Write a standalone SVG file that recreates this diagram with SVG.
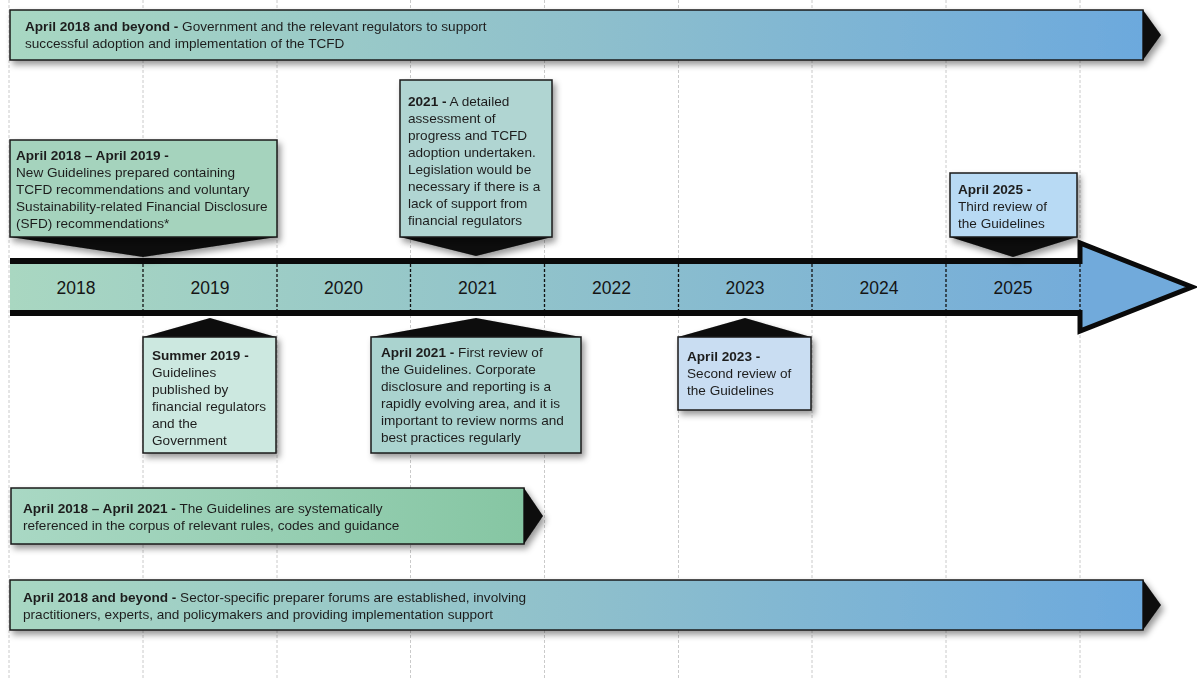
<svg xmlns="http://www.w3.org/2000/svg" width="1197" height="679" viewBox="0 0 1197 679">
<defs>
<style>
.t{font-family:"Liberation Sans",Arial,sans-serif;font-size:13.6px;fill:#1e1e1e}
.b{font-weight:bold}
.yr{font-family:"Liberation Sans",Arial,sans-serif;font-size:17.5px;fill:#151515;text-anchor:middle}
.grid{stroke:#bdbdbd;stroke-width:0.8;stroke-dasharray:3 2}
.div{stroke:#111;stroke-width:1.3;stroke-dasharray:3 2}
.box{stroke:#1a1a1a;stroke-width:1.5}
.ptr{fill:#0a0a0a}
.tip{fill:#0a0a0a}
</style>
<linearGradient id="gLong" x1="0" y1="0" x2="1" y2="0">
<stop offset="0" stop-color="#a8d7c2"/>
<stop offset="0.5" stop-color="#8fc0cc"/>
<stop offset="1" stop-color="#6ca9dd"/>
</linearGradient>
<linearGradient id="gBand" x1="0" y1="0" x2="1" y2="0">
<stop offset="0" stop-color="#a9d7c1"/>
<stop offset="0.5" stop-color="#90c2cb"/>
<stop offset="1" stop-color="#74acda"/>
</linearGradient>
<linearGradient id="gGreen" x1="0" y1="0" x2="1" y2="0">
<stop offset="0" stop-color="#a9d8c4"/>
<stop offset="1" stop-color="#86c6a3"/>
</linearGradient>
<filter id="sh" x="-10%" y="-20%" width="125%" height="150%">
<feDropShadow dx="3" dy="4" stdDeviation="3" flood-color="#000" flood-opacity="0.4"/>
</filter>
</defs>
<rect width="1197" height="679" fill="#fff"/>
<g id="gridlines">
<line class="grid" x1="9" y1="0" x2="9" y2="679"/>
<line class="grid" x1="143" y1="0" x2="143" y2="679"/>
<line class="grid" x1="277" y1="0" x2="277" y2="679"/>
<line class="grid" x1="410.5" y1="0" x2="410.5" y2="679"/>
<line class="grid" x1="544.5" y1="0" x2="544.5" y2="679"/>
<line class="grid" x1="678.5" y1="0" x2="678.5" y2="679"/>
<line class="grid" x1="812" y1="0" x2="812" y2="679"/>
<line class="grid" x1="946" y1="0" x2="946" y2="679"/>
<line class="grid" x1="1080" y1="0" x2="1080" y2="679"/>
</g>
<g id="bar-top" filter="url(#sh)">
<rect class="box" x="10" y="10" width="1133" height="50" fill="url(#gLong)"/>
<polygon class="tip" points="1143,10 1161,35 1143,60"/>
<text class="t" x="25" y="31"><tspan class="b">April 2018 and beyond -</tspan> Government and the relevant regulators to support</text>
<text class="t" x="25" y="48">successful adoption and implementation of the TCFD</text>
</g>
<g id="timeline">
<rect x="10" y="263" width="1072" height="48" fill="url(#gBand)"/>
<line x1="10" y1="261" x2="1082" y2="261" stroke="#0a0a0a" stroke-width="6"/>
<line x1="10" y1="313" x2="1082" y2="313" stroke="#0a0a0a" stroke-width="6"/>
<path d="M1080,264 L1080,243 L1192,287 L1080,331 L1080,310" fill="#71aadb" stroke="#0a0a0a" stroke-width="5" stroke-linejoin="miter"/>
<line class="div" x1="143" y1="264" x2="143" y2="310"/>
<line class="div" x1="277" y1="264" x2="277" y2="310"/>
<line class="div" x1="410.5" y1="264" x2="410.5" y2="310"/>
<line class="div" x1="544.5" y1="264" x2="544.5" y2="310"/>
<line class="div" x1="678.5" y1="264" x2="678.5" y2="310"/>
<line class="div" x1="812" y1="264" x2="812" y2="310"/>
<line class="div" x1="946" y1="264" x2="946" y2="310"/>
<line class="div" x1="1080" y1="264" x2="1080" y2="310"/>
<text class="yr" x="76" y="293.5">2018</text>
<text class="yr" x="210" y="293.5">2019</text>
<text class="yr" x="343.5" y="293.5">2020</text>
<text class="yr" x="477.5" y="293.5">2021</text>
<text class="yr" x="611.5" y="293.5">2022</text>
<text class="yr" x="745" y="293.5">2023</text>
<text class="yr" x="879" y="293.5">2024</text>
<text class="yr" x="1013" y="293.5">2025</text>
</g>
<g id="connectors" filter="url(#sh)">
<polygon class="ptr" points="10,237 277,237 143,257"/>
<polygon class="ptr" points="400,237 552,237 476,256"/>
<polygon class="ptr" points="950,237 1077,237 1013,257"/>
<polygon class="ptr" points="143,337 276,337 210,318"/>
<polygon class="ptr" points="371,337 581,337 476,318"/>
<polygon class="ptr" points="678,337 811,337 745,318"/>
</g>
<g id="c-2018-2019" filter="url(#sh)">
<rect class="box" x="10" y="140" width="267" height="97" fill="#a5d3bd"/>
<text class="t" x="16" y="160"><tspan class="b">April 2018 – April 2019 -</tspan></text>
<text class="t" x="16" y="177">New Guidelines prepared containing</text>
<text class="t" x="16" y="194">TCFD recommendations and voluntary</text>
<text class="t" x="16" y="211">Sustainability-related Financial Disclosure</text>
<text class="t" x="16" y="228">(SFD) recommendations*</text>
</g>
<g id="c-2021" filter="url(#sh)">
<rect class="box" x="400" y="80" width="152" height="157" fill="#b0d5d2"/>
<text class="t" x="408" y="106"><tspan class="b">2021 -</tspan> A detailed</text>
<text class="t" x="408" y="123">assessment of</text>
<text class="t" x="408" y="140">progress and TCFD</text>
<text class="t" x="408" y="157">adoption undertaken.</text>
<text class="t" x="408" y="174">Legislation would be</text>
<text class="t" x="408" y="191">necessary if there is a</text>
<text class="t" x="408" y="208">lack of support from</text>
<text class="t" x="408" y="225">financial regulators</text>
</g>
<g id="c-2025" filter="url(#sh)">
<rect class="box" x="950" y="173" width="127" height="64" fill="#b8daf4"/>
<text class="t" x="958" y="194"><tspan class="b">April 2025 -</tspan></text>
<text class="t" x="958" y="211">Third review of</text>
<text class="t" x="958" y="228">the Guidelines</text>
</g>
<g id="c-summer-2019" filter="url(#sh)">
<rect class="box" x="143" y="337" width="133" height="116" fill="#cce8e0"/>
<text class="t" x="152" y="360"><tspan class="b">Summer 2019 -</tspan></text>
<text class="t" x="152" y="377">Guidelines</text>
<text class="t" x="152" y="394">published by</text>
<text class="t" x="152" y="411">financial regulators</text>
<text class="t" x="152" y="428">and the</text>
<text class="t" x="152" y="445">Government</text>
</g>
<g id="c-april-2021" filter="url(#sh)">
<rect class="box" x="371" y="337" width="210" height="116" fill="#aad3cf"/>
<text class="t" x="381" y="357"><tspan class="b">April 2021 -</tspan> First review of</text>
<text class="t" x="381" y="374">the Guidelines. Corporate</text>
<text class="t" x="381" y="391">disclosure and reporting is a</text>
<text class="t" x="381" y="408">rapidly evolving area, and it is</text>
<text class="t" x="381" y="425">important to review norms and</text>
<text class="t" x="381" y="442">best practices regularly</text>
</g>
<g id="c-april-2023" filter="url(#sh)">
<rect class="box" x="678" y="337" width="133" height="73" fill="#c9ddf2"/>
<text class="t" x="687" y="361"><tspan class="b">April 2023 -</tspan></text>
<text class="t" x="687" y="378">Second review of</text>
<text class="t" x="687" y="395">the Guidelines</text>
</g>
<g id="bar-2018-2021" filter="url(#sh)">
<rect class="box" x="11" y="488" width="513" height="56" fill="url(#gGreen)"/>
<polygon class="tip" points="524,488 543,516 524,544"/>
<text class="t" x="23" y="513"><tspan class="b">April 2018 – April 2021 -</tspan> The Guidelines are systematically</text>
<text class="t" x="23" y="530">referenced in the corpus of relevant rules, codes and guidance</text>
</g>
<g id="bar-bottom" filter="url(#sh)">
<rect class="box" x="10" y="580" width="1133" height="50" fill="url(#gLong)"/>
<polygon class="tip" points="1143,580 1161,605 1143,630"/>
<text class="t" x="23" y="602"><tspan class="b">April 2018 and beyond -</tspan> Sector-specific preparer forums are established, involving</text>
<text class="t" x="23" y="619">practitioners, experts, and policymakers and providing implementation support</text>
</g>
</svg>
